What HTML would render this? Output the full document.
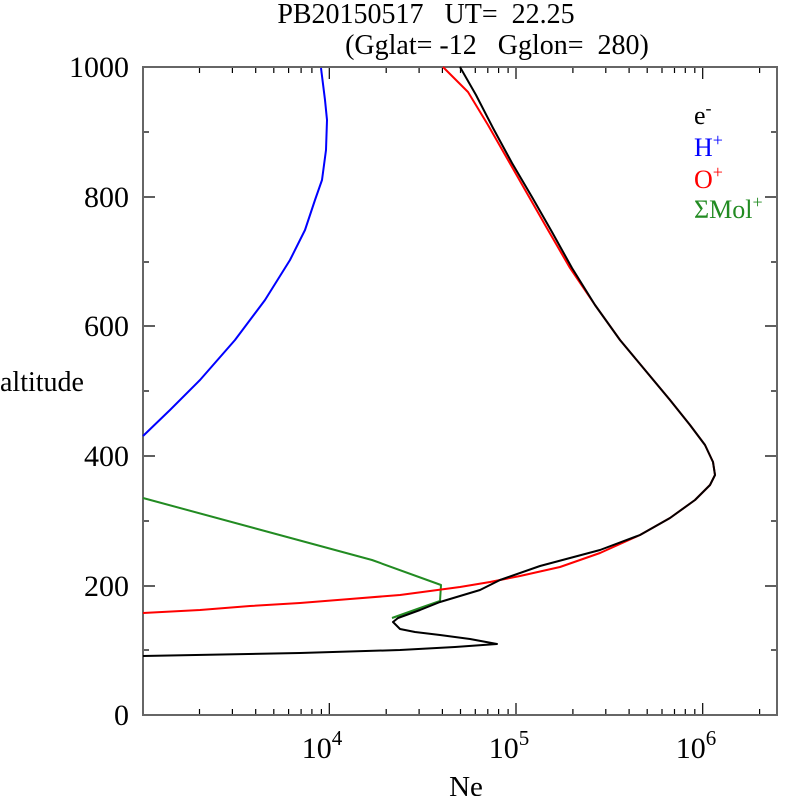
<!DOCTYPE html>
<html><head><style>body{margin:0;background:#fff}svg{display:block}text{font-family:"Liberation Serif",serif;white-space:pre}</style></head>
<body>
<svg width="792" height="796" viewBox="0 0 792 796">
<text x="426" y="23" font-size="28" text-anchor="middle">PB20150517   UT=  22.25</text>
<text x="497" y="54" font-size="28" text-anchor="middle">(Gglat= -12   Gglon=  280)</text>
<g stroke="#000" stroke-width="1.2">
<path d="M143 67h12M143 197h12M143 326h12M143 456h12M143 586h12M143 715h12M143 132h6M143 262h6M143 391h6M143 521h6M143 650h6M777 67h-12M777 197h-12M777 326h-12M777 456h-12M777 586h-12M777 715h-12M777 132h-6M777 262h-6M777 391h-6M777 521h-6M777 650h-6"/>
<path d="M329.3 715v-12M516 715v-12M702.7 715v-12M329.3 67v12M516 67v12M702.7 67v12"/>
<path id="mn" d="M199.5 715v-6M232.4 715v-6M255.7 715v-6M273.8 715v-6M288.6 715v-6M301.1 715v-6M311.9 715v-6M321.4 715v-6M386.2 715v-6M419.1 715v-6M442.4 715v-6M460.5 715v-6M475.3 715v-6M487.8 715v-6M498.6 715v-6M508.1 715v-6M572.9 715v-6M605.8 715v-6M629.1 715v-6M647.2 715v-6M662 715v-6M674.5 715v-6M685.3 715v-6M694.8 715v-6M759.6 715v-6"/>
<use href="#mn" transform="translate(0,782) scale(1,-1)"/>
</g>
<rect x="143" y="67" width="634" height="648" fill="none" stroke="#666" stroke-width="2"/>
<g font-size="30" text-anchor="end">
<text x="129" y="77">1000</text><text x="129" y="207">800</text><text x="129" y="336">600</text><text x="129" y="466">400</text><text x="129" y="596">200</text><text x="129" y="725">0</text>
</g>
<text x="0" y="391" font-size="28">altitude</text>
<g font-size="30" text-anchor="middle">
<text x="322" y="758">10<tspan font-size="21" dy="-13">4</tspan></text>
<text x="509" y="758">10<tspan font-size="21" dy="-13">5</tspan></text>
<text x="696" y="758">10<tspan font-size="21" dy="-13">6</tspan></text>
<text x="466" y="796" font-size="29">Ne</text>
</g>
<g font-size="26">
<text x="694" y="124">e<tspan font-size="18" dy="-10">-</tspan></text>
<text x="694" y="156" fill="#00f">H<tspan font-size="18" dy="-10">+</tspan></text>
<text x="694" y="188" fill="#f00">O<tspan font-size="18" dy="-10">+</tspan></text>
<text x="694" y="218" fill="#228b22">ΣMol<tspan font-size="18" dy="-10">+</tspan></text>
</g>
<g fill="none" stroke-width="2" stroke-linejoin="round">
<polyline stroke="#00f" points="143,436 170,410 200,380 235,340 265,300 290,260 305,230 315,200 322,180 326,150 327,120 325,100 321,68"/>
<polyline stroke="#228b22" points="143,498 372,560 441,585 440,601 420,608 392,618"/>
<polyline stroke="#f00" points="143,613 200,610 250,606 300,603 350,599 400,595 430,591 460,587 490,582 520,576 560,567 600,553 640,535 670,518 695,500 710,485 715,475 713,462 705,445 690,425 670,400 645,370 620,340 595,305 570,268 548,230 528,195 508,160 488,125 468,92 443,67"/>
<polyline stroke="#000" points="143,656 300,653 400,650 455,647 497,644 470,639 440,635 415,632 400,629 393,622 398,618 420,610 440,602 460,596 480,590 500,580 540,566 600,550 640,535 670,518 695,500 710,485 715,475 713,462 705,445 690,425 670,400 645,370 620,340 595,305 572,268 552,232 532,197 512,163 493,128 476,95 460,67"/>
</g>
</svg>
</body></html>
